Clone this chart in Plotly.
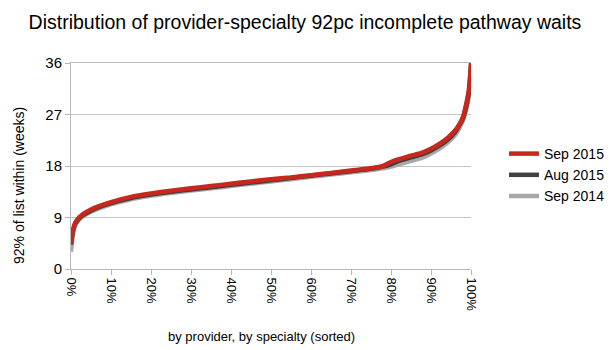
import plotly.graph_objects as go

# Percentile positions (fraction of provider-specialties, sorted)
positions = [0, 0.5, 1, 2, 3, 5, 7, 10, 15, 20, 25, 30, 35, 40, 45, 50, 55, 60, 65, 70,
             75, 78, 80, 82, 85, 88, 90, 92, 94, 96, 97, 98, 99, 99.5, 100]

sep_2015 = [4.5, 6.8, 8.0, 9.0, 9.6, 10.4, 11.0, 11.7, 12.6, 13.2, 13.7, 14.1, 14.5, 14.9, 15.3,
            15.7, 16.0, 16.4, 16.8, 17.2, 17.6, 18.0, 18.7, 19.2, 19.8, 20.4, 21.0, 21.8, 22.8,
            24.2, 25.2, 26.6, 29.5, 31.5, 36.0]
aug_2015 = [4.3, 6.6, 7.8, 8.8, 9.4, 10.2, 10.8, 11.5, 12.4, 13.0, 13.5, 13.9, 14.3, 14.7, 15.1,
            15.5, 15.9, 16.3, 16.7, 17.1, 17.5, 17.9, 18.3, 18.9, 19.5, 20.1, 20.7, 21.5, 22.5,
            23.9, 25.0, 26.3, 29.0, 31.0, 35.5]
sep_2014 = [3.0, 6.2, 7.6, 8.6, 9.2, 10.0, 10.6, 11.3, 12.2, 12.8, 13.3, 13.7, 14.1, 14.5, 14.9,
            15.3, 15.7, 16.1, 16.5, 16.9, 17.3, 17.6, 17.9, 18.3, 18.9, 19.5, 20.2, 21.0, 22.0,
            23.4, 24.5, 26.0, 28.5, 30.5, 35.0]

x_tick_values = [i / 10 for i in range(11)]
y_tick_values = [0, 9, 18, 27, 36]

x = [p / 100 for p in positions]

series_names = ["Sep 2015", "Aug 2015", "Sep 2014"]
series_vals = [sep_2015, aug_2015, sep_2014]
colors = ["#c8271b", "#404040", "#a8a8a8"]

fig = go.Figure()
# draw in reverse so Sep 2015 is on top, keep legend order
for name, vals, col, rank in reversed(list(zip(series_names, series_vals, colors, [1, 2, 3]))):
    fig.add_trace(go.Scatter(x=x, y=vals, name=name, mode="lines",
                             line=dict(color=col, width=4.5, shape="spline", smoothing=0.6),
                             legendrank=rank))

font = "Liberation Sans, Arial, sans-serif"
W, H = 616, 350
fig.update_layout(
    width=W, height=H,
    margin=dict(l=71, r=145, t=63, b=81, autoexpand=False),
    paper_bgcolor="white", plot_bgcolor="white",
    font=dict(family=font, color="#000000", size=13),
    title=dict(text="Distribution of provider-specialty 92pc incomplete pathway waits",
               x=305 / W, xanchor="center", y=1 - 22 / H, yanchor="middle", yref="container",
               font=dict(size=19.5, family=font)),
    showlegend=True,
    legend=dict(xref="container", yref="container", x=504 / W, xanchor="left",
                y=1 - 175 / H, yanchor="middle",
                font=dict(size=14, family=font), traceorder="normal",
                bgcolor="rgba(0,0,0,0)"),
    xaxis=dict(range=[0, 1], tickvals=x_tick_values, tickformat=".0%",
               tickangle=90, showgrid=False, zeroline=False,
               showline=True, linecolor="#b8b8b8", linewidth=1, mirror=True,
               ticks="outside", ticklen=5, tickcolor="#b8b8b8",
               tickfont=dict(size=13, family=font)),
    yaxis=dict(range=[0, 36], tickvals=y_tick_values, showgrid=True, gridcolor="#c4c4c4",
               zeroline=False, showline=True, linecolor="#b8b8b8", linewidth=1,
               ticks="outside", ticklen=5, tickcolor="#b8b8b8",
               tickfont=dict(size=15, family=font)),
    annotations=[
        dict(text="by provider, by specialty (sorted)", xref="paper", yref="paper",
             x=(261 - 71) / 400, y=-(336 - 269) / 206, xanchor="center", yanchor="middle",
             showarrow=False, font=dict(size=13, family=font)),
        dict(text="92% of list within (weeks)", xref="paper", yref="paper",
             x=-(71 - 19) / 400, y=(269 - 186) / 206, xanchor="center", yanchor="middle",
             textangle=-90, showarrow=False, font=dict(size=14, family=font)),
    ],
)

fig.write_html("out.html")
